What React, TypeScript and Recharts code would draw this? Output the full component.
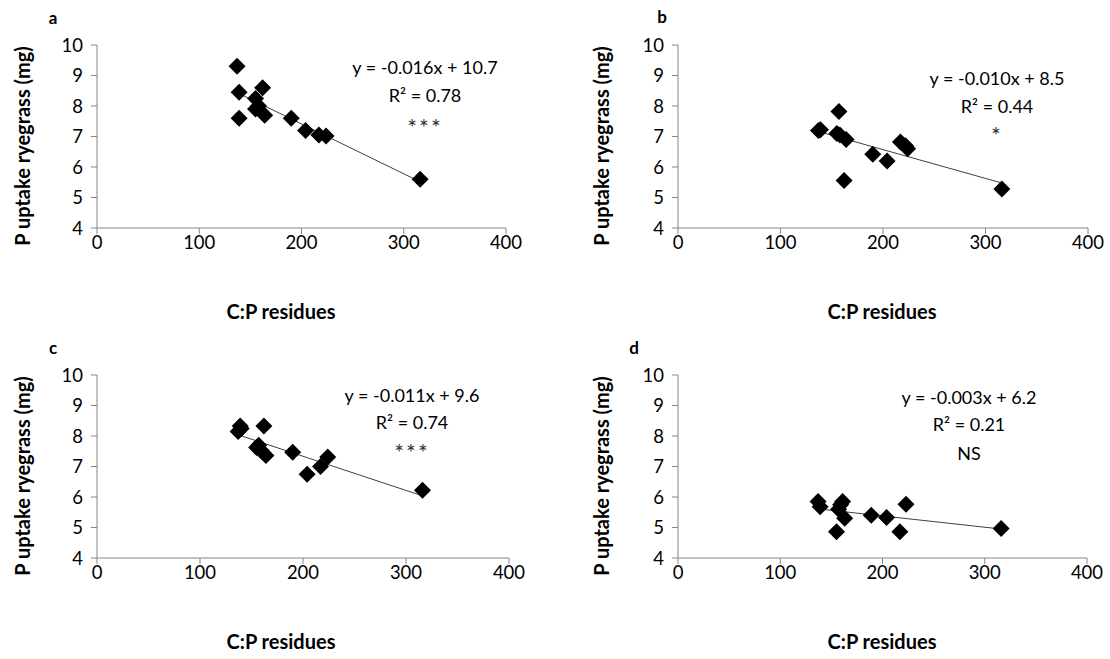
import React from 'react';
import { ScatterChart, Scatter, XAxis, YAxis } from 'recharts';

// ---- data ----
const xTicks = [0, 100, 200, 300, 400];
const yTicks = [4, 5, 6, 7, 8, 9, 10];

const xA = [137, 139, 139, 155, 155, 158, 162, 164, 190, 204, 217, 224, 316];
const yA = [9.3, 8.45, 7.6, 8.25, 7.9, 8.0, 8.6, 7.7, 7.6, 7.2, 7.05, 7.02, 5.6];

const xB = [137, 139, 155, 157, 158, 162, 164, 190, 204, 217, 222, 224, 316];
const yB = [7.2, 7.22, 7.1, 7.82, 7.05, 5.56, 6.9, 6.42, 6.2, 6.82, 6.7, 6.6, 5.28];

const xC = [137, 139, 140, 155, 157, 160, 162, 164, 190, 204, 217, 224, 316];
const yC = [8.15, 8.33, 8.25, 7.62, 7.7, 7.5, 8.33, 7.36, 7.47, 6.75, 7.0, 7.31, 6.22];

const xD = [137, 139, 155, 157, 159, 161, 163, 189, 204, 217, 223, 316];
const yD = [5.85, 5.68, 4.86, 5.6, 5.75, 5.85, 5.3, 5.4, 5.33, 4.86, 5.76, 4.97];

const eqA = ['y = -0.016x + 10.7', 'R² = 0.78', '***'];
const eqB = ['y = -0.010x + 8.5', 'R² = 0.44', '*'];
const eqC = ['y = -0.011x + 9.6', 'R² = 0.74', '***'];
const eqD = ['y = -0.003x + 6.2', 'R² = 0.21', 'NS'];

const panelLetters = ['a', 'b', 'c', 'd'];
const yTitle = 'P uptake ryegrass (mg)';
const xTitle = 'C:P residues';

const FONT = 'Lato, "Open Sans", sans-serif';
const AXIS = '#868686';

function fitLine(xs: number[], ys: number[]) {
  const n = xs.length;
  const mx = xs.reduce((s, v) => s + v, 0) / n;
  const my = ys.reduce((s, v) => s + v, 0) / n;
  let sxy = 0, sxx = 0;
  for (let i = 0; i < n; i++) {
    sxy += (xs[i] - mx) * (ys[i] - my);
    sxx += (xs[i] - mx) * (xs[i] - mx);
  }
  const b = sxy / sxx;
  const a = my - b * mx;
  const x0 = Math.min(...xs);
  const x1 = Math.max(...xs);
  return [{ x: x0, y: a + b * x0 }, { x: x1, y: a + b * x1 }];
}

const Diamond = (p: any) => {
  const { cx, cy } = p;
  if (cx == null || cy == null) return <g />;
  const r = 8.5;
  return <path d={`M${cx},${cy - r}L${cx + r},${cy}L${cx},${cy + r}L${cx - r},${cy}Z`} fill="#000" />;
};

const Nothing = () => <g />;

type PanelProps = {
  left: number; top: number; w: number; h: number;
  margin: { top: number; right: number; bottom: number; left: number };
  xs: number[]; ys: number[];
};

function Panel({ left, top, w, h, margin, xs, ys }: PanelProps) {
  const pts = xs.map((x, i) => ({ x, y: ys[i] }));
  const trend = fitLine(xs, ys);
  return (
    <div style={{ position: 'absolute', left, top, width: w, height: h }}>
      <ScatterChart width={w} height={h} margin={margin}>
        <XAxis
          type="number" dataKey="x" domain={[0, 400]} ticks={xTicks} height={30}
          axisLine={{ stroke: AXIS }} tickLine={{ stroke: AXIS }} tickSize={6} tickMargin={2}
          tick={{ fill: '#000', fontSize: 18.5, fontFamily: FONT }} interval={0}
        />
        <YAxis
          type="number" dataKey="y" domain={[4, 10]} ticks={yTicks} width={60}
          axisLine={{ stroke: AXIS }} tickLine={{ stroke: AXIS }} tickSize={6} tickMargin={8}
          tick={{ fill: '#000', fontSize: 18.5, fontFamily: FONT }} interval={0}
        />
        <Scatter data={trend} line={{ stroke: '#404040', strokeWidth: 1 }} shape={Nothing} isAnimationActive={false} />
        <Scatter data={pts} shape={Diamond} isAnimationActive={false} />
      </ScatterChart>
    </div>
  );
}

const Txt = ({ x, y, children, bold, size = 18, rotate, color = '#000', spacing = 0 }: any) => (
  <div
    style={{
      position: 'absolute', left: x, top: y, whiteSpace: 'nowrap',
      transform: `translate(-50%, -50%)${rotate ? ' rotate(-90deg)' : ''}`,
      fontFamily: FONT, fontSize: size, fontWeight: bold ? 700 : 400, color, lineHeight: 1,
      letterSpacing: spacing,
    }}
  >
    {children}
  </div>
);

function Eq({ cx, ys, lines }: { cx: number; ys: number[]; lines: string[] }) {
  return (
    <>
      {lines.map((l, i) => {
        const star = /^\*+$/.test(l);
        return star ? (
          <Txt key={i} x={cx} y={ys[i] + 5} size={23} color="#333" spacing={2}>{l}</Txt>
        ) : (
          <Txt key={i} x={cx} y={ys[i]}>{l}</Txt>
        );
      })}
    </>
  );
}

export default function App() {
  return (
    <div style={{ position: 'absolute', left: 0, top: 0, width: 1110, height: 659, background: '#fff', overflow: 'hidden' }}>
      <Panel left={0} top={0} w={555} h={329} margin={{ top: 45, right: 49, bottom: 71, left: 37 }} xs={xA} ys={yA} />
      <Panel left={555} top={0} w={555} h={329} margin={{ top: 45, right: 22, bottom: 71, left: 63 }} xs={xB} ys={yB} />
      <Panel left={0} top={329} w={555} h={330} margin={{ top: 46, right: 46, bottom: 71, left: 37 }} xs={xC} ys={yC} />
      <Panel left={555} top={329} w={555} h={330} margin={{ top: 46, right: 23, bottom: 71, left: 63 }} xs={xD} ys={yD} />

      <Txt x={53} y={17} bold size={17}>{panelLetters[0]}</Txt>
      <Txt x={662} y={16} bold size={17}>{panelLetters[1]}</Txt>
      <Txt x={53} y={347} bold size={17}>{panelLetters[2]}</Txt>
      <Txt x={634} y={347} bold size={17}>{panelLetters[3]}</Txt>

      <Txt x={22} y={146} bold rotate size={20}>{yTitle}</Txt>
      <Txt x={601} y={146} bold rotate size={20}>{yTitle}</Txt>
      <Txt x={22} y={476} bold rotate size={20}>{yTitle}</Txt>
      <Txt x={601} y={476} bold rotate size={20}>{yTitle}</Txt>

      <Txt x={281} y={311} bold size={20}>{xTitle}</Txt>
      <Txt x={882} y={311} bold size={20}>{xTitle}</Txt>
      <Txt x={281} y={641} bold size={20}>{xTitle}</Txt>
      <Txt x={882} y={641} bold size={20}>{xTitle}</Txt>

      <Eq cx={425} ys={[67, 95, 122]} lines={eqA} />
      <Eq cx={997} ys={[78, 106, 130]} lines={eqB} />
      <Eq cx={412} ys={[395, 422, 447]} lines={eqC} />
      <Eq cx={969} ys={[397, 424, 453]} lines={eqD} />
    </div>
  );
}
